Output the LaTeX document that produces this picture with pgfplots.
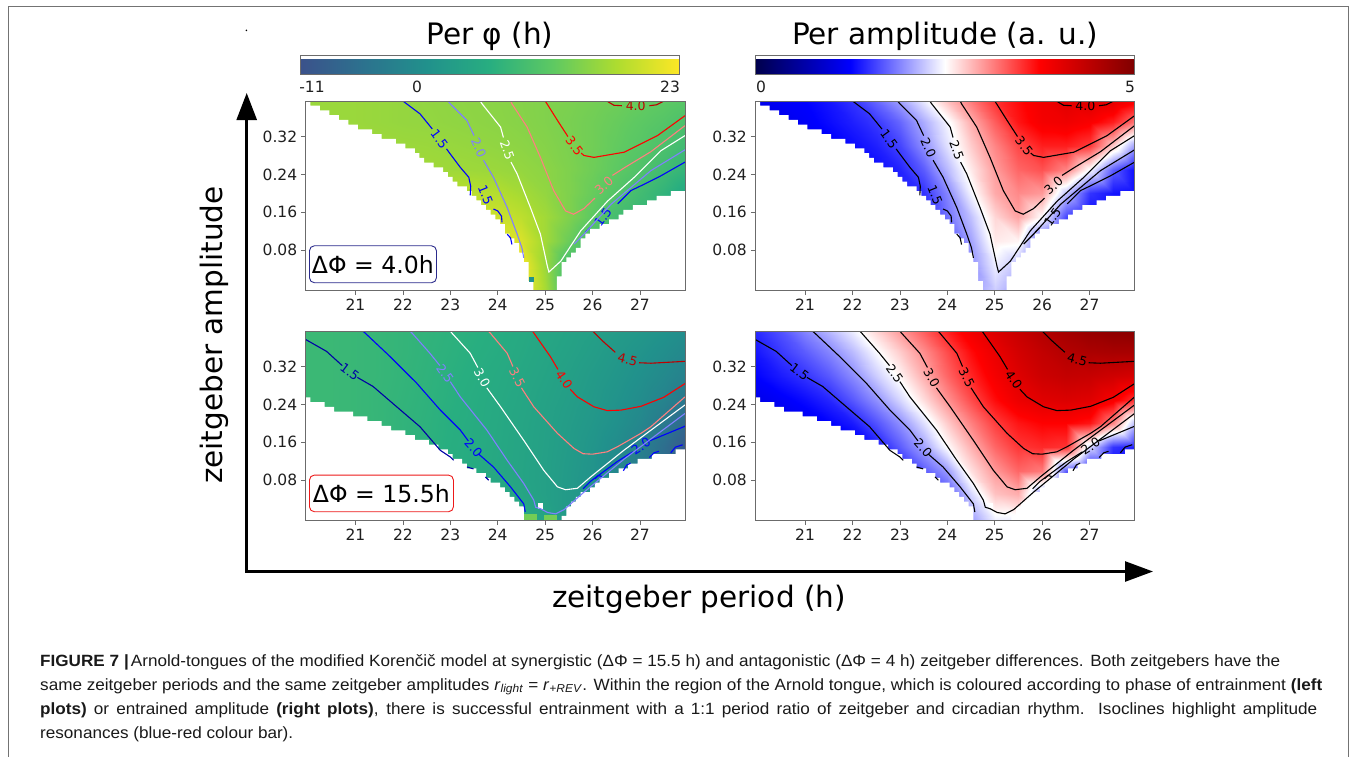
\documentclass[border=0pt]{standalone}
\usepackage{pgfplots}
\pgfplotsset{compat=1.18}
\usepackage{pgfplotstable}
\usepackage{fontspec}
\setmainfont{DejaVu Sans}
\newfontfamily\capfont[FakeStretch=1.05]{Liberation Sans}
\usetikzlibrary{arrows.meta,calc}

\definecolor{cNavy}{rgb}{0,0,0.65}
\definecolor{cBlue}{rgb}{0,0,1}
\definecolor{cPeri}{rgb}{0.5,0.5,1}
\definecolor{cSalmon}{rgb}{1,0.5,0.5}
\definecolor{cRed}{rgb}{1,0,0}
\definecolor{cDark}{rgb}{0.75,0,0}
\definecolor{frameg}{gray}{0.42}
\definecolor{boxnavy}{rgb}{0.17,0.17,0.55}
\definecolor{boxred}{rgb}{0.93,0.1,0.1}

\newcommand\tickfont{\fontsize{15.5bp}{18bp}\selectfont}
\newcommand\isofont{\fontsize{12.5bp}{14bp}\selectfont}
\newcommand\bigfont{\fontsize{29.5bp}{34bp}\selectfont}
\newcommand\boxfont{\fontsize{23.6bp}{27bp}\selectfont}
\newcommand\capsize{\capfont\fontsize{16.3bp}{18bp}\selectfont}

\tikzset{isolab/.style={font=\isofont, inner sep=0pt}}

\pgfplotsset{
  colormap={vir}{rgb255=(59,82,139) rgb255=(44,114,142) rgb255=(33,145,140)
    rgb255=(40,174,128) rgb255=(94,201,98) rgb255=(173,220,48) rgb255=(253,231,37)},
  colormap={seis}{rgb=(0,0,0.3) rgb=(0,0,1) rgb=(1,1,1) rgb=(1,0,0) rgb=(0.5,0,0)},
  panel/.style={
    scale only axis, width=379.3bp, height=189.5bp,
    xmin=19.95, xmax=27.95, ymin=-0.005, ymax=0.395,
    xtick={21,22,23,24,25,26,27}, xticklabels={21,22,23,24,25,26,27},
    ytick={0.08,0.16,0.24,0.32}, yticklabels={0.08,0.16,0.24,0.32},
    xtick pos=lower, ytick pos=lower,
    tick align=outside, major tick length=4.5bp,
    tick style={color=frameg, line width=0.8bp},
    axis line style={color=frameg, line width=1bp},
    ticklabel style={font=\tickfont, text=black!88},
    yticklabel style={xshift=-0.5bp},
    axis on top, unbounded coords=jump, clip=true,
  },
  iso/.style={line width=1.1bp, mark=none},
  cbar/.style={
    scale only axis, width=378.5bp, height=18.3bp,
    xtick=\empty, ytick=\empty,
    axis line style={color=frameg, line width=1bp},
  },
}

% grid values: amplitude (a4, a15) and phase (p4, p15) for dPhi = 4.0 h and 15.5 h
\pgfplotstableread{
x y a4 p4 a15 p15
19.95 -0.005 1.0 19 1.0 8
20.5 -0.005 1.0 19 1.0 8
21 -0.005 1.0 19 1.0 7.8
21.5 -0.005 1.0 19 1.0 7.4
22 -0.005 1.0 19 1.0 6.9
22.5 -0.005 1.05 19.5 1.05 6.4
23 -0.005 1.1 20 1.2 5.8
23.5 -0.005 1.25 21 1.4 5.2
24 -0.005 1.5 22 1.6 4.6
24.5 -0.005 2.0 23 2.0 6
25 -0.005 2.25 17 2.4 4
25.5 -0.005 2.0 8 2.4 2
26 -0.005 1.5 6 1.9 0.6
26.5 -0.005 1.2 6 1.5 -1.2
27 -0.005 1.1 6 1.3 -3.5
27.5 -0.005 1.1 6 1.2 -6.5
27.95 -0.005 1.1 6 1.2 -9.5
19.95 0.05 1.0 19 1.0 8
20.5 0.05 1.0 19 1.0 8
21 0.05 1.0 19 1.0 7.8
21.5 0.05 1.0 19 1.0 7.4
22 0.05 1.0 19 1.0 6.9
22.5 0.05 1.05 19.5 1.1 6.4
23 0.05 1.15 20 1.25 5.8
23.5 0.05 1.3 20.5 1.5 5.2
24 0.05 1.5 21.5 1.65 4.6
24.5 0.05 1.95 22.5 2.3 4.2
25 0.05 2.42 16 2.8 3.2
25.5 0.05 2.2 9 2.9 2
26 0.05 1.5 7 2.0 0.6
26.5 0.05 1.2 6.5 1.4 -1.2
27 0.05 1.1 6 1.3 -3.5
27.5 0.05 1.1 6 1.2 -6.5
27.95 0.05 1.1 6 1.2 -9.5
19.95 0.1 1.0 18.5 1.0 8
20.5 0.1 1.0 18.5 1.0 8
21 0.1 1.0 18.5 1.0 7.8
21.5 0.1 1.0 18.5 1.0 7.4
22 0.1 1.05 18.5 1.05 6.9
22.5 0.1 1.1 18.8 1.15 6.4
23 0.1 1.2 19 1.35 5.8
23.5 0.1 1.35 19.5 1.7 5.3
24 0.1 1.6 20.5 2.0 4.7
24.5 0.1 2.05 20.5 2.65 4
25 0.1 2.6 16.5 3.0 3.2
25.5 0.1 2.55 12.5 3.25 2.1
26 0.1 1.7 9 3.15 0.8
26.5 0.1 1.3 7 1.7 -1.5
27 0.1 1.2 6.5 1.3 -3.8
27.5 0.1 1.15 6 1.25 -6.5
27.95 0.1 1.1 6 1.2 -9.5
19.95 0.15 1.0 18 1.0 8
20.5 0.15 1.0 18 1.0 8
21 0.15 1.0 18 1.0 7.8
21.5 0.15 1.05 18 1.05 7.4
22 0.15 1.1 18 1.15 7
22.5 0.15 1.15 18.2 1.35 6.5
23 0.15 1.25 18.6 1.7 5.9
23.5 0.15 1.45 19.2 2.05 5.4
24 0.15 1.8 19.5 2.5 4.8
24.5 0.15 2.2 18.5 2.88 4.1
25 0.15 2.7 16.5 3.25 3.3
25.5 0.15 2.95 14 3.48 2.3
26 0.15 2.5 11.5 3.55 1.1
26.5 0.15 1.6 9 3.5 -0.5
27 0.15 1.3 7.5 2.3 -2.6
27.5 0.15 1.25 6.5 1.5 -6
27.95 0.15 1.2 6 1.4 -9.5
19.95 0.2 1.0 17.5 1.0 8
20.5 0.2 1.0 17.5 1.05 8
21 0.2 1.05 17.5 1.15 7.8
21.5 0.2 1.1 17.4 1.25 7.5
22 0.2 1.15 17.4 1.38 7
22.5 0.2 1.25 17.6 1.65 6.6
23 0.2 1.4 17.8 1.95 6
23.5 0.2 1.5 18.2 2.35 5.5
24 0.2 1.9 17.8 2.75 4.9
24.5 0.2 2.45 16.8 3.12 4.2
25 0.2 2.92 15.5 3.45 3.4
25.5 0.2 3.08 14 3.65 2.5
26 0.2 3.0 12.3 3.75 1.5
26.5 0.2 2.2 10.5 3.75 0.3
27 0.2 1.5 8.8 3.65 -1.4
27.5 0.2 1.35 7 3.1 -4
27.95 0.2 1.3 5 2.15 -7
19.95 0.25 0.95 17 1.1 8
20.5 0.25 1.0 17 1.2 8
21 0.25 1.05 17 1.3 7.8
21.5 0.25 1.1 16.8 1.43 7.5
22 0.25 1.2 16.6 1.68 7.1
22.5 0.25 1.3 16.5 1.95 6.7
23 0.25 1.42 16.3 2.3 6.2
23.5 0.25 1.7 16.2 2.67 5.6
24 0.25 2.15 16 3.03 5
24.5 0.25 2.6 15.6 3.38 4.4
25 0.25 2.98 15 3.7 3.6
25.5 0.25 3.25 14 3.93 2.8
26 0.25 3.35 12.8 4.05 1.9
26.5 0.25 3.1 11.6 4.1 0.8
27 0.25 2.45 10.2 4.05 -0.5
27.5 0.25 1.7 8.6 3.82 -2.2
27.95 0.25 1.3 7.2 3.5 -4.2
19.95 0.3 1.0 16.5 1.25 8
20.5 0.3 1.05 16.5 1.38 8
21 0.3 1.1 16.4 1.5 7.8
21.5 0.3 1.2 16.3 1.68 7.6
22 0.3 1.3 16.1 1.93 7.2
22.5 0.3 1.4 16 2.25 6.8
23 0.3 1.58 15.8 2.55 6.3
23.5 0.3 1.95 15.6 2.9 5.8
24 0.3 2.35 15.3 3.25 5.2
24.5 0.3 2.75 15 3.57 4.6
25 0.3 3.1 14.5 3.85 3.9
25.5 0.3 3.4 13.8 4.07 3.1
26 0.3 3.6 13 4.25 2.2
26.5 0.3 3.6 12 4.33 1.3
27 0.3 3.45 11 4.3 0.2
27.5 0.3 2.75 9.8 4.22 -1.1
27.95 0.3 2.0 8.6 4.15 -2.5
19.95 0.35 1.05 16 1.35 8
20.5 0.35 1.1 16 1.53 8
21 0.35 1.2 16 1.7 7.8
21.5 0.35 1.3 15.8 1.9 7.6
22 0.35 1.4 15.6 2.17 7.3
22.5 0.35 1.52 15.5 2.47 6.9
23 0.35 1.75 15.3 2.75 6.5
23.5 0.35 2.1 15.1 3.06 6
24 0.35 2.45 14.9 3.38 5.5
24.5 0.35 2.9 14.6 3.7 4.9
25 0.35 3.3 14.2 3.95 4.2
25.5 0.35 3.65 13.6 4.18 3.5
26 0.35 3.85 13 4.35 2.7
26.5 0.35 3.9 12.3 4.49 1.8
27 0.35 3.8 11.5 4.57 0.9
27.5 0.35 3.6 10.7 4.6 -0.2
27.95 0.35 3.17 9.8 4.6 -1.3
19.95 0.395 1.1 16 1.45 8
20.5 0.395 1.2 16 1.65 8
21 0.395 1.25 16 1.9 7.8
21.5 0.395 1.35 15.8 2.15 7.6
22 0.395 1.5 15.6 2.42 7.3
22.5 0.395 1.75 15.4 2.7 7
23 0.395 2.03 15.2 3.0 6.6
23.5 0.395 2.4 15 3.3 6.2
24 0.395 2.8 14.8 3.6 5.7
24.5 0.395 3.15 14.5 3.88 5.1
25 0.395 3.5 14.2 4.1 4.5
25.5 0.395 3.7 13.8 4.3 3.8
26 0.395 3.9 13.3 4.5 3.1
26.5 0.395 4.05 12.8 4.65 2.4
27 0.395 4.1 12.2 4.78 1.6
27.5 0.395 4.02 11.6 4.87 0.7
27.95 0.395 3.8 11 4.92 -0.3
}\field

% region outside the Arnold tongue (dPhi = 4.0 h)
\newcommand{\maskTop}{%
  \addplot[fill=white, draw=none, const plot] coordinates {
    (19.9,-0.01) (19.9,0.40) (20.05,0.385) (20.15,0.385) (20.25,0.375) (20.35,0.375)
    (20.45,0.365) (20.55,0.365) (20.65,0.355) (20.75,0.355) (20.85,0.345) (20.95,0.345)
    (21.05,0.335) (21.15,0.335) (21.25,0.335) (21.35,0.325) (21.45,0.325) (21.55,0.315)
    (21.65,0.315) (21.75,0.315) (21.85,0.305) (21.95,0.305) (22.05,0.295) (22.15,0.295)
    (22.25,0.285) (22.35,0.275) (22.45,0.265) (22.55,0.265) (22.65,0.255) (22.75,0.255)
    (22.85,0.245) (22.95,0.235) (23.05,0.225) (23.15,0.215) (23.25,0.215) (23.35,0.205)
    (23.45,0.195) (23.55,0.185) (23.65,0.175) (23.75,0.165) (23.85,0.155) (23.95,0.145)
    (24.05,0.135) (24.15,0.115) (24.25,0.105) (24.35,0.095) (24.45,0.075) (24.55,0.055)
    (24.65,0.015) (24.75,-0.01)} -- cycle;
  \addplot[fill=white, draw=none, const plot] coordinates {
    (25.25,-0.01) (25.25,0.025) (25.35,0.055) (25.45,0.065) (25.55,0.075) (25.65,0.085)
    (25.75,0.105) (25.85,0.115) (25.95,0.125) (26.05,0.125) (26.15,0.135) (26.25,0.135)
    (26.35,0.145) (26.45,0.145) (26.55,0.155) (26.65,0.165) (26.75,0.165) (26.85,0.175)
    (26.95,0.175) (27.05,0.175) (27.15,0.185) (27.25,0.185) (27.35,0.195) (27.45,0.195)
    (27.55,0.195) (27.65,0.205) (27.75,0.205) (28.0,0.205) (28.0,-0.01)} -- cycle;
}

% region outside the Arnold tongue (dPhi = 15.5 h)
\newcommand{\maskBot}{%
  \addplot[fill=white, draw=none, const plot] coordinates {
    (19.9,-0.01) (19.9,0.255) (20.05,0.245) (20.15,0.245) (20.25,0.245) (20.35,0.235)
    (20.45,0.235) (20.55,0.225) (20.65,0.225) (20.75,0.225) (20.85,0.225) (20.95,0.215)
    (21.05,0.215) (21.15,0.215) (21.25,0.205) (21.35,0.205) (21.45,0.205) (21.55,0.195)
    (21.65,0.195) (21.75,0.185) (21.85,0.185) (21.95,0.185) (22.05,0.175) (22.15,0.175)
    (22.25,0.165) (22.35,0.165) (22.45,0.165) (22.55,0.155) (22.65,0.155) (22.75,0.145)
    (22.85,0.145) (22.95,0.135) (23.05,0.125) (23.15,0.125) (23.25,0.115) (23.35,0.105)
    (23.45,0.105) (23.55,0.095) (23.65,0.095) (23.75,0.085) (23.85,0.075) (23.95,0.075)
    (24.05,0.065) (24.15,0.055) (24.25,0.045) (24.35,0.035) (24.45,0.025) (24.55,-0.01)} -- cycle;
  \addplot[fill=white, draw=none, const plot] coordinates {
    (25.35,-0.01) (25.35,0.005) (25.45,0.025) (25.55,0.035) (25.65,0.045) (25.75,0.055)
    (25.85,0.055) (25.95,0.065) (26.05,0.075) (26.15,0.085) (26.25,0.085) (26.35,0.095)
    (26.45,0.095) (26.55,0.105) (26.65,0.105) (26.75,0.115) (26.85,0.115) (26.95,0.125)
    (27.05,0.125) (27.15,0.125) (27.25,0.135) (27.35,0.135) (27.45,0.135) (27.55,0.135)
    (27.65,0.135) (27.75,0.145) (28.0,0.145) (28.0,-0.01)} -- cycle;
  \addplot[fill=white, draw=none] coordinates {(24.85,0.02) (24.96,0.02) (24.96,0.031) (24.85,0.031)} -- cycle;
}

% isoclines, dPhi = 4.0 h: colours for 1.5, 2.0, 2.5, 3.0, 3.5, 4.0
\newcommand{\isoTop}[6]{%
  \addplot[iso,#1] coordinates {(22.0,0.395) (22.08,0.389) (22.36,0.368) (22.62,0.336) (nan,nan)
    (22.92,0.294) (23.0,0.283) (23.21,0.255) (23.39,0.234) (23.43,0.215) (23.42,0.196)};
  \addplot[iso,#1] coordinates {(23.91,0.167) (24.0,0.163) (24.08,0.152) (24.09,0.139) (nan,nan)
    (24.2,0.114) (24.27,0.106) (24.3,0.092)};
  \addplot[iso,#1] coordinates {(26.53,0.178) (26.81,0.206) (27.02,0.216) (27.44,0.237) (27.95,0.266)};
  \addplot[iso,#1] coordinates {(25.85,0.118) (25.95,0.128)};
  \node[isolab,text=#1,rotate=-54] at (axis cs:22.77,0.314) {1.5};
  \node[isolab,text=#1,rotate=-68] at (axis cs:23.74,0.197) {1.5};
  \node[isolab,text=#1,rotate=55] at (axis cs:26.22,0.15) {1.5};
  \addplot[iso,#2] coordinates {(22.95,0.395) (23.0,0.389) (23.35,0.354) (23.5,0.322) (nan,nan)
    (23.7,0.27) (23.91,0.234) (24.2,0.17) (24.41,0.114) (24.51,0.085) (24.55,0.064)};
  \addplot[iso,#2] coordinates {(25.61,0.093) (25.82,0.114) (26.39,0.177) (27.23,0.248) (27.95,0.292)};
  \node[isolab,text=#2,rotate=-66] at (axis cs:23.6,0.296) {2.0};
  \addplot[iso,#3] coordinates {(23.63,0.395) (23.67,0.389) (24.06,0.34) (24.12,0.318) (nan,nan)
    (24.28,0.266) (24.41,0.241) (24.69,0.17) (24.9,0.114) (25.05,0.045) (25.08,0.034)
    (25.33,0.057) (25.75,0.121) (26.32,0.184) (26.88,0.234) (27.44,0.29) (27.95,0.322)};
  \node[isolab,text=#3,rotate=-70] at (axis cs:24.2,0.292) {2.5};
  \addplot[iso,#4] coordinates {(24.27,0.395) (24.3,0.389) (24.62,0.34) (24.9,0.276) (25.18,0.206)
    (25.43,0.163) (25.6,0.156) (25.82,0.168) (26.05,0.19) (nan,nan)
    (26.42,0.238) (26.67,0.254) (27.23,0.288) (27.95,0.343)};
  \node[isolab,text=#4,rotate=42] at (axis cs:26.24,0.216) {3.0};
  \addplot[iso,#5] coordinates {(25.0,0.395) (25.04,0.389) (25.26,0.354) (25.48,0.32) (nan,nan)
    (25.76,0.285) (25.82,0.28) (26.03,0.276) (26.67,0.287) (27.37,0.322) (27.95,0.364)};
  \node[isolab,text=#5,rotate=-52] at (axis cs:25.62,0.3) {3.5};
  \addplot[iso,#6] coordinates {(26.3,0.395) (26.45,0.386) (26.62,0.385) (nan,nan)
    (27.2,0.385) (27.35,0.387) (27.47,0.393) (27.5,0.395)};
  \node[isolab,text=#6] at (axis cs:26.91,0.384) {4.0};
}

% isoclines, dPhi = 15.5 h: colours for 1.5, 2.0, 2.5, 3.0, 3.5, 4.0, 4.5
\newcommand{\isoBot}[7]{%
  \addplot[iso,#1] coordinates {(19.95,0.377) (20.39,0.352) (20.72,0.322) (nan,nan)
    (21.04,0.297) (21.37,0.278) (21.87,0.235) (22.36,0.193) (22.79,0.143) (23.0,0.129) (23.07,0.122)};
  \addplot[iso,#1] coordinates {(23.35,0.108) (23.42,0.106) (23.49,0.104) (nan,nan) (23.74,0.087) (23.81,0.08)};
  \node[isolab,text=#1,rotate=-37] at (axis cs:20.88,0.309) {1.5};
  \addplot[iso,#2] coordinates {(21.15,0.395) (21.2,0.391) (21.73,0.341) (22.29,0.285) (22.79,0.228)
    (23.21,0.186) (23.38,0.163) (nan,nan) (23.6,0.135) (23.91,0.108) (24.27,0.066) (24.55,0.03) (24.58,0.013)};
  \node[isolab,text=#2,rotate=-48] at (axis cs:23.49,0.149) {2.0};
  \addplot[iso,#2] coordinates {(25.8,0.062) (25.96,0.078) (26.53,0.12) (26.85,0.14) (nan,nan)
    (27.2,0.163) (27.95,0.194)};
  \node[isolab,text=#2,rotate=33] at (axis cs:27.02,0.152) {2.0};
  \addplot[iso,#2] coordinates {(26.65,0.1) (26.72,0.112) (26.8,0.116) (nan,nan)
    (27.2,0.128) (27.3,0.138) (27.4,0.141) (nan,nan) (27.65,0.138) (27.75,0.15) (27.9,0.155)
    (nan,nan) (26.05,0.083) (26.12,0.09) (26.2,0.088)};
  \addplot[iso,#3] coordinates {(22.15,0.395) (22.19,0.391) (22.57,0.348) (22.78,0.322) (nan,nan)
    (23.0,0.288) (23.21,0.256) (23.77,0.186) (24.2,0.122) (24.55,0.073) (24.76,0.038) (24.8,0.023)
    (24.9,0.02) (25.05,0.012) (25.22,0.009) (25.4,0.018) (25.82,0.055) (26.67,0.125) (27.95,0.221)};
  \node[isolab,text=#3,rotate=-55] at (axis cs:22.89,0.305) {2.5};
  \addplot[iso,#4] coordinates {(23.0,0.395) (23.03,0.391) (23.42,0.348) (23.58,0.318) (nan,nan)
    (23.77,0.275) (24.06,0.235) (24.55,0.164) (24.97,0.101) (25.26,0.066) (25.43,0.06)
    (25.68,0.063) (25.96,0.087) (26.67,0.144) (27.95,0.239)};
  \node[isolab,text=#4,rotate=-61] at (axis cs:23.67,0.296) {3.0};
  \addplot[iso,#5] coordinates {(23.8,0.395) (23.84,0.391) (24.2,0.348) (24.32,0.32) (nan,nan)
    (24.5,0.275) (24.76,0.235) (25.26,0.179) (25.61,0.147) (25.8,0.136) (26.0,0.135) (26.31,0.14)
    (26.53,0.151) (27.02,0.179) (27.23,0.193) (27.95,0.256)};
  \node[isolab,text=#5,rotate=-63] at (axis cs:24.41,0.297) {3.5};
  \addplot[iso,#6] coordinates {(24.73,0.395) (24.76,0.391) (25.11,0.341) (25.27,0.314) (nan,nan)
    (25.53,0.272) (25.68,0.256) (26.03,0.235) (26.31,0.227) (26.6,0.228) (27.02,0.236)
    (27.5,0.255) (27.95,0.284)};
  \node[isolab,text=#6,rotate=-56] at (axis cs:25.4,0.292) {4.0};
  \addplot[iso,#7] coordinates {(26.0,0.395) (26.2,0.375) (26.48,0.35) (nan,nan)
    (26.98,0.328) (27.23,0.327) (27.95,0.331)};
  \node[isolab,text=#7,rotate=-15] at (axis cs:26.74,0.334) {4.5};
}

\begin{document}
\begin{tikzpicture}[x=1bp,y=-1bp]
\useasboundingbox (0,0) rectangle (1356,756);
\begin{scope}
\clip (0,0) rectangle (1356,756);
\draw[color=black!55, line width=1.3bp] (8.3,780) -- (8.3,6.3) -- (1348.7,6.3) -- (1348.7,780);
\end{scope}
\fill (246.4,30.4) circle (0.9);

% phase of entrainment, dPhi = 4.0 h
\begin{axis}[panel, at={(305.7bp,-101bp)}, anchor=north west,
  colormap name=vir, point meta min=-11, point meta max=23,
  colorbar horizontal,
  colorbar style={cbar, at={($(parent axis.north west)+(-5bp,35.4bp)$)}, anchor=south west}]
  \addplot[surf, shader=interp, mesh/cols=17, point meta=explicit] table[x=x, y=y, meta=p4] {\field};
  \maskTop
  \addplot[fill={rgb,255:red,33;green,145;blue,140}, draw=none] coordinates {(24.66,0.014) (24.76,0.014) (24.76,0.023) (24.66,0.023)} -- cycle;
  \isoTop{cBlue}{cPeri}{white}{cSalmon}{cRed}{cDark}
  \node[draw=boxnavy, line width=0.9bp, rounded corners=5bp, fill=white, anchor=south west,
    minimum width=127bp, minimum height=37bp, inner sep=0pt, font=\boxfont]
    at ($(rel axis cs:0,0)+(3.3bp,7.3bp)$) {ΔΦ = 4.0h};
\end{axis}

% entrained amplitude, dPhi = 4.0 h
\begin{axis}[panel, at={(755.3bp,-101bp)}, anchor=north west,
  colormap name=seis, point meta min=0, point meta max=5,
  colorbar horizontal,
  colorbar style={cbar, at={($(parent axis.north west)+(0.4bp,35.4bp)$)}, anchor=south west}]
  \addplot[surf, shader=interp, mesh/cols=17, point meta=explicit] table[x=x, y=y, meta=a4] {\field};
  \maskTop
  \isoTop{black}{black}{black}{black}{black}{black}
\end{axis}

% phase of entrainment, dPhi = 15.5 h
\begin{axis}[panel, at={(305.7bp,-331bp)}, anchor=north west,
  colormap name=vir, point meta min=-11, point meta max=23]
  \addplot[surf, shader=interp, mesh/cols=17, point meta=explicit] table[x=x, y=y, meta=p15] {\field};
  \maskBot
  \addplot[fill={rgb,255:red,115;green,205;blue,85}, draw=none] coordinates {(24.55,-0.01) (24.83,-0.01) (24.83,0.009) (24.55,0.009)} -- cycle;
  \addplot[fill={rgb,255:red,115;green,205;blue,85}, draw=none] coordinates {(24.97,-0.01) (25.25,-0.01) (25.25,0.007) (24.97,0.007)} -- cycle;
  \isoBot{cNavy}{cBlue}{cPeri}{white}{cSalmon}{cRed}{cDark}
  \node[draw=boxred, line width=0.9bp, rounded corners=5bp, fill=white, anchor=south west,
    minimum width=144bp, minimum height=36.7bp, inner sep=0pt, font=\boxfont]
    at ($(rel axis cs:0,0)+(3.3bp,8.3bp)$) {ΔΦ = 15.5h};
\end{axis}

% entrained amplitude, dPhi = 15.5 h
\begin{axis}[panel, at={(755.3bp,-331bp)}, anchor=north west,
  colormap name=seis, point meta min=0, point meta max=5]
  \addplot[surf, shader=interp, mesh/cols=17, point meta=explicit] table[x=x, y=y, meta=a15] {\field};
  \maskBot
  \isoBot{black}{black}{black}{black}{black}{black}{black}
\end{axis}

% colour bar titles and limits
\node[font=\bigfont] at (490,36) {Per φ (h)};
\node[font=\bigfont] at (945,36) {Per amplitude (a. u.)};
\node[font=\tickfont, text=black!88] at (312,87) {-11};
\node[font=\tickfont, text=black!88] at (417,87) {0};
\node[font=\tickfont, text=black!88] at (670,87) {23};
\node[font=\tickfont, text=black!88] at (761,87) {0};
\node[font=\tickfont, text=black!88] at (1130,87) {5};

% shared axes
\draw[line width=2.6bp, {Triangle[length=27bp,width=20bp]}-{Triangle[length=28bp,width=20bp]}]
  (246.7,93) -- (246.7,571.5) -- (1153,571.5);
\node[font=\bigfont, rotate=90] at (214,335) {zeitgeber amplitude};
\node[font=\bigfont] at (699,599) {zeitgeber period (h)};

% caption
\begin{scope}[every node/.style={anchor=base west, inner sep=0pt, text=black!90, font=\capsize}]
\node at (40,666) {\makebox[1240bp][s]{\textbf{FIGURE 7 |}\kern2bp Arnold-tongues of the modified Korenčič model at synergistic (ΔΦ = 15.5 h) and antagonistic (ΔΦ = 4 h) zeitgeber differences. Both zeitgebers have the}};
\node at (40,690.3) {\makebox[1282bp][s]{same zeitgeber periods and the same zeitgeber amplitudes \textit{r}\textsubscript{\textit{light}} = \textit{r}\textsubscript{\textit{+REV}}. Within the region of the Arnold tongue, which is coloured according to phase of entrainment \textbf{(left}}};
\node at (40,714.5) {\makebox[1277bp][s]{\textbf{plots)} or entrained amplitude \textbf{(right plots)}, there is successful entrainment with a 1:1 period ratio of zeitgeber and circadian rhythm. Isoclines highlight amplitude}};
\node at (40,738.7) {resonances (blue-red colour bar).};
\end{scope}
\end{tikzpicture}
\end{document}
